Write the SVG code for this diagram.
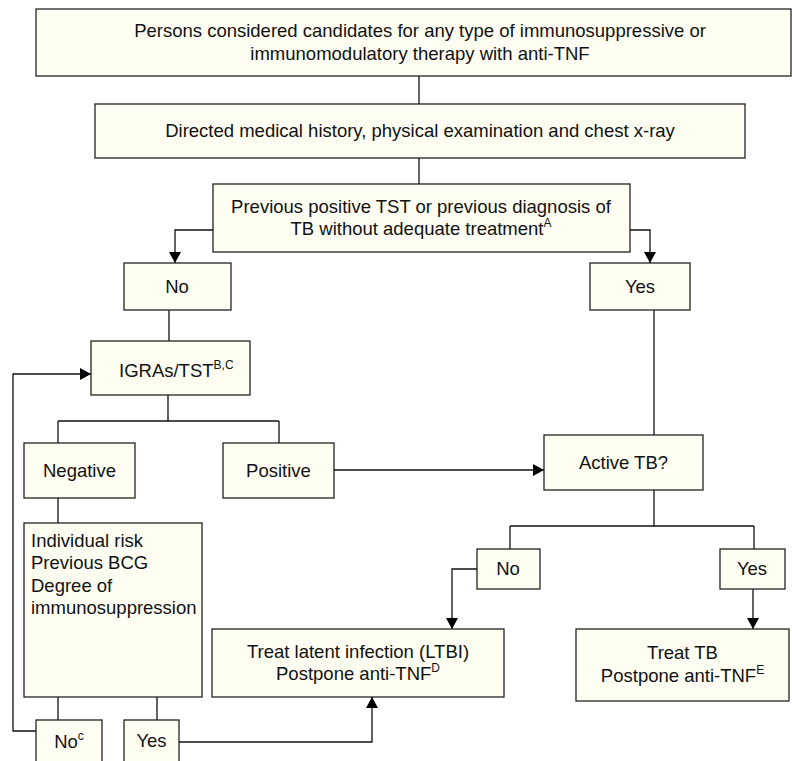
<svg xmlns="http://www.w3.org/2000/svg" width="792" height="761" viewBox="0 0 792 761">
<defs>
<marker id="arr" markerUnits="userSpaceOnUse" markerWidth="12" markerHeight="12" refX="11" refY="6" orient="auto">
<path d="M0,0 L11,6 L0,12 z" fill="#000"/>
</marker>
<style>
.box{fill:#fefef2;stroke:#222;stroke-width:1.3}
.t{font-family:"Liberation Sans",Arial,Helvetica,sans-serif;font-size:18.5px;fill:#111}
.c{text-anchor:middle}
.sup{font-size:12px}
.ln{fill:none;stroke:#111;stroke-width:1.3}
</style>
</defs>
<rect width="792" height="761" fill="#fff"/>
<g id="connectors">
<path class="ln" d="M419,76 V104"/>
<path class="ln" d="M419,158 V184"/>
<path class="ln" d="M213,230 H175 V263" marker-end="url(#arr)"/>
<path class="ln" d="M630,230 H650 V263" marker-end="url(#arr)"/>
<path class="ln" d="M169,310 V341"/>
<path class="ln" d="M168,395 V421 M58,421 H279 M58,421 V443 M279,421 V443"/>
<path class="ln" d="M334,470 H544" marker-end="url(#arr)"/>
<path class="ln" d="M654,310 V435"/>
<path class="ln" d="M654,490 V526 M510,526 H754 M510,526 V549 M754,526 V549"/>
<path class="ln" d="M477,569 H452 V629" marker-end="url(#arr)"/>
<path class="ln" d="M753,589 V629" marker-end="url(#arr)"/>
<path class="ln" d="M58,498 V523"/>
<path class="ln" d="M58,697 V720 M157,697 V720"/>
<path class="ln" d="M36,731 H13 V374 H91" marker-end="url(#arr)"/>
<path class="ln" d="M179,742 H372 V697" marker-end="url(#arr)"/>
</g>
<g id="n-candidates">
<rect class="box" x="36" y="9" width="755" height="67"/>
<text class="t c" x="420" y="37">Persons considered candidates for any type of immunosuppressive or</text>
<text class="t c" x="420" y="60">immunomodulatory therapy with anti-TNF</text>
</g>
<g id="n-history">
<rect class="box" x="95" y="104" width="650" height="54"/>
<text class="t c" x="420" y="137">Directed medical history, physical examination and chest x-ray</text>
</g>
<g id="n-previous">
<rect class="box" x="213" y="184" width="417" height="68"/>
<text class="t c" x="421" y="213">Previous positive TST or previous diagnosis of</text>
<text class="t c" x="421" y="235">TB without adequate treatment<tspan class="sup" dy="-8">A</tspan></text>
</g>
<g id="n-no1">
<rect class="box" x="124" y="263" width="107" height="47"/>
<text class="t c" x="177" y="293">No</text>
</g>
<g id="n-yes1">
<rect class="box" x="590" y="263" width="100" height="47"/>
<text class="t c" x="640" y="293">Yes</text>
</g>
<g id="n-igras">
<rect class="box" x="91" y="341" width="159" height="54"/>
<text class="t" x="119" y="377">IGRAs/TST<tspan class="sup" dy="-8">B,C</tspan></text>
</g>
<g id="n-negative">
<rect class="box" x="24" y="443" width="111" height="55"/>
<text class="t c" x="79.5" y="477">Negative</text>
</g>
<g id="n-positive">
<rect class="box" x="223" y="443" width="111" height="55"/>
<text class="t c" x="278.5" y="477">Positive</text>
</g>
<g id="n-active">
<rect class="box" x="544" y="435" width="159" height="55"/>
<text class="t c" x="623.5" y="469">Active TB?</text>
</g>
<g id="n-no2">
<rect class="box" x="477" y="549" width="63" height="40"/>
<text class="t c" x="508" y="575">No</text>
</g>
<g id="n-yes2">
<rect class="box" x="720" y="549" width="65" height="40"/>
<text class="t c" x="752" y="575">Yes</text>
</g>
<g id="n-risk">
<rect class="box" x="24" y="523" width="178" height="174"/>
<text class="t" x="31" y="547">Individual risk</text>
<text class="t" x="31" y="569">Previous BCG</text>
<text class="t" x="31" y="592">Degree of</text>
<text class="t" x="31" y="614">immunosuppression</text>
</g>
<g id="n-ltbi">
<rect class="box" x="212" y="629" width="292" height="68"/>
<text class="t c" x="358" y="658">Treat latent infection (LTBI)</text>
<text class="t c" x="358" y="680">Postpone anti-TNF<tspan class="sup" dy="-8">D</tspan></text>
</g>
<g id="n-treattb">
<rect class="box" x="576" y="629" width="213" height="72"/>
<text class="t c" x="682.5" y="659">Treat TB</text>
<text class="t c" x="682.5" y="682">Postpone anti-TNF<tspan class="sup" dy="-8">E</tspan></text>
</g>
<g id="n-no3">
<rect class="box" x="36" y="720" width="66" height="50"/>
<text class="t c" x="69" y="748">No<tspan class="sup" dy="-8">c</tspan></text>
</g>
<g id="n-yes3">
<rect class="box" x="124" y="720" width="55" height="50"/>
<text class="t c" x="151.5" y="747">Yes</text>
</g>
</svg>
